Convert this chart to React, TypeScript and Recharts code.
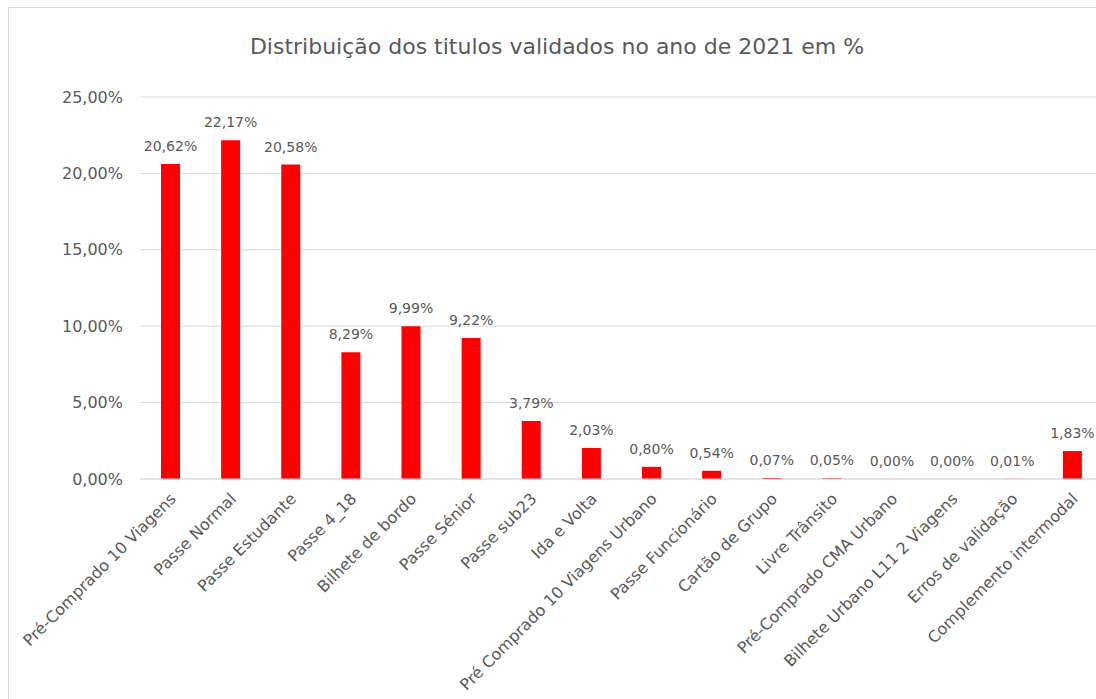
import { BarChart, Bar, XAxis, YAxis, CartesianGrid, LabelList } from 'recharts';

const categories = [
  'Pré-Comprado 10 Viagens',
  'Passe Normal',
  'Passe Estudante',
  'Passe 4_18',
  'Bilhete de bordo',
  'Passe Sénior',
  'Passe sub23',
  'Ida e Volta',
  'Pré Comprado 10 Viagens Urbano',
  'Passe Funcionário',
  'Cartão de Grupo',
  'Livre Trânsito',
  'Pré-Comprado CMA Urbano',
  'Bilhete Urbano L11 2 Viagens',
  'Erros de validação',
  'Complemento intermodal',
];
// the two "0,00%" entries are tiny but not zero (a faint sliver shows in the original)
const values = [20.62, 22.17, 20.58, 8.29, 9.99, 9.22, 3.79, 2.03, 0.8, 0.54, 0.07, 0.05, 0.003, 0.002, 0.01, 1.83];
const yTicks = [0, 5, 10, 15, 20, 25];

const data = categories.map((name, i) => ({ name, value: values[i] }));

const FONT = '"DejaVu Sans", sans-serif';
const TEXT = '#595959';
const GRID = '#d9d9d9';

const pct = (v: number) => v.toFixed(2).replace('.', ',') + '%';

// rotated category label, end of text sits just right of the bar
const CategoryTick = (props: any) => {
  const { x, y, payload } = props;
  return (
    <g transform={`translate(${x + 3},${y + 17})`}>
      <text
        transform="rotate(-45)"
        textAnchor="end"
        dominantBaseline="central"
        fill={TEXT}
        fontSize={16}
        fontFamily={FONT}
      >
        {payload.value}
      </text>
    </g>
  );
};

export default function App() {
  return (
    <div style={{ position: 'fixed', left: 0, top: 0, width: 1096, height: 699, overflow: 'hidden', background: '#fff' }}>
      <div
        style={{
          position: 'absolute',
          left: 8,
          top: 7,
          width: 1200,
          height: 800,
          border: `1px solid ${GRID}`,
        }}
      />
      <div
        style={{
          position: 'absolute',
          left: 0,
          top: 36,
          width: 1114,
          textAlign: 'center',
          fontFamily: FONT,
          fontSize: 22,
          lineHeight: '22px',
          color: TEXT,
        }}
      >
        Distribuição dos titulos validados no ano de 2021 em %
      </div>
      <div style={{ position: 'absolute', left: 0, top: 0 }}>
        <BarChart width={1110} height={699} data={data} margin={{ top: 97, right: 8, left: 0, bottom: 0 }}>
          <CartesianGrid vertical={false} stroke={GRID} strokeWidth={1} />
          <XAxis
            dataKey="name"
            interval={0}
            height={220}
            tickLine={false}
            tickSize={0}
            tickMargin={0}
            axisLine={{ stroke: GRID }}
            tick={<CategoryTick />}
          />
          <YAxis
            width={140}
            domain={[0, 25]}
            ticks={yTicks}
            axisLine={false}
            tickLine={false}
            tickSize={0}
            tickMargin={17}
            tickFormatter={pct}
            tick={{ fontSize: 16, fill: TEXT, fontFamily: FONT }}
          />
          <Bar dataKey="value" fill="#ff0000" barSize={19} isAnimationActive={false}>
            <LabelList
              dataKey="value"
              position="top"
              offset={13}
              formatter={(v: any) => pct(Number(v))}
              style={{ fontSize: 14, fill: TEXT, fontFamily: FONT }}
            />
          </Bar>
        </BarChart>
      </div>
    </div>
  );
}
